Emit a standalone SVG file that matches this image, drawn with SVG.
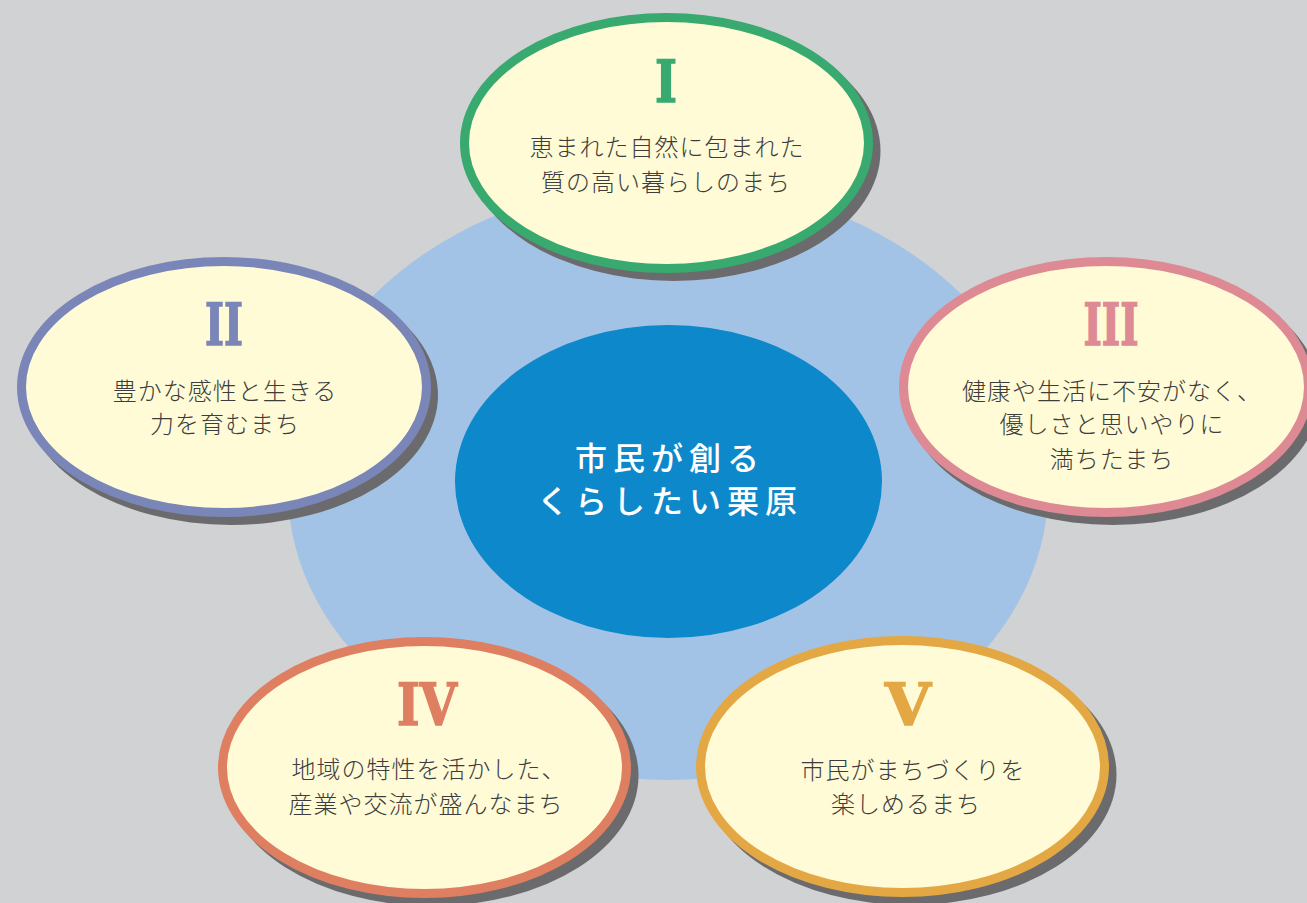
<svg xmlns="http://www.w3.org/2000/svg" width="1307" height="903" viewBox="0 0 1307 903">
<style>
.ring{fill:#fffbd6;stroke-width:9}
.shadow{fill:#6b6b6d}
.num{font-family:"DejaVu Serif","Liberation Serif",serif;font-weight:bold;font-size:58px;text-anchor:middle;stroke-width:1.6}
.body{font-family:"Noto Sans CJK JP","Noto Sans",sans-serif;font-size:24px;font-weight:300;fill:#3d3d3d;text-anchor:middle;letter-spacing:1px}
.center{font-family:"Noto Sans CJK JP","Noto Sans",sans-serif;font-size:32px;font-weight:500;fill:#ffffff;text-anchor:middle;letter-spacing:6px}
</style>
<rect x="0" y="0" width="1307" height="903" fill="#d1d2d4"/>
<g id="backdrop">
<path d="M 288 490 A 380 308 0 0 1 1048 490 A 380 290 0 0 1 288 490 Z" fill="#a2c3e6"/>
</g>
<g id="center">
<ellipse cx="668.5" cy="481.5" rx="213.5" ry="156.5" fill="#0d88ca"/>
<text class="center" x="670" y="470">市民が創る</text>
<text class="center" x="670" y="513">くらしたい栗原</text>
</g>
<g id="connectors"/>
<g id="node1">
<ellipse class="shadow" cx="674" cy="151" rx="206.5" ry="130"/>
<ellipse class="ring" cx="666.5" cy="143" rx="202" ry="125.5" stroke="#38aa70"/>
<text class="num" x="666" y="102" fill="#38aa70" stroke="#38aa70" textLength="22" lengthAdjust="spacingAndGlyphs">I</text>
<text class="body" x="667" y="156">恵まれた自然に包まれた</text>
<text class="body" x="666" y="191">質の高い暮らしのまち</text>
</g>
<g id="node2">
<ellipse class="shadow" cx="231" cy="395" rx="207" ry="130"/>
<ellipse class="ring" cx="224" cy="387" rx="202.5" ry="125.5" stroke="#7b86b8"/>
<text class="num" x="224" y="345" fill="#7b86b8" stroke="#7b86b8" textLength="38" lengthAdjust="spacingAndGlyphs">II</text>
<text class="body" x="225" y="400">豊かな感性と生きる</text>
<text class="body" x="225" y="433">力を育むまち</text>
</g>
<g id="node3">
<ellipse class="shadow" cx="1113" cy="395" rx="207" ry="130"/>
<ellipse class="ring" cx="1106" cy="387" rx="202.5" ry="125.5" stroke="#dd8a95"/>
<text class="num" x="1111" y="345" fill="#dd8a95" stroke="#dd8a95" textLength="55" lengthAdjust="spacingAndGlyphs">III</text>
<text class="body" x="1112" y="400">健康や生活に不安がなく、</text>
<text class="body" x="1112" y="433">優しさと思いやりに</text>
<text class="body" x="1112" y="468">満ちたまち</text>
</g>
<g id="node4">
<ellipse class="shadow" cx="432" cy="775.5" rx="206.5" ry="130.5"/>
<ellipse class="ring" cx="424.5" cy="767.5" rx="202" ry="126" stroke="#df7f62"/>
<text class="num" x="427" y="725" fill="#df7f62" stroke="#df7f62" textLength="60" lengthAdjust="spacingAndGlyphs">IV</text>
<text class="body" x="429" y="778">地域の特性を活かした、</text>
<text class="body" x="426" y="813">産業や交流が盛んなまち</text>
</g>
<g id="node5">
<ellipse class="shadow" cx="910" cy="774.5" rx="206.5" ry="130.5"/>
<ellipse class="ring" cx="902.5" cy="766.5" rx="202" ry="126" stroke="#e3a843"/>
<text class="num" x="908" y="725" fill="#e3a843" stroke="#e3a843" textLength="46" lengthAdjust="spacingAndGlyphs">V</text>
<text class="body" x="913" y="779">市民がまちづくりを</text>
<text class="body" x="906" y="813">楽しめるまち</text>
</g>
</svg>
